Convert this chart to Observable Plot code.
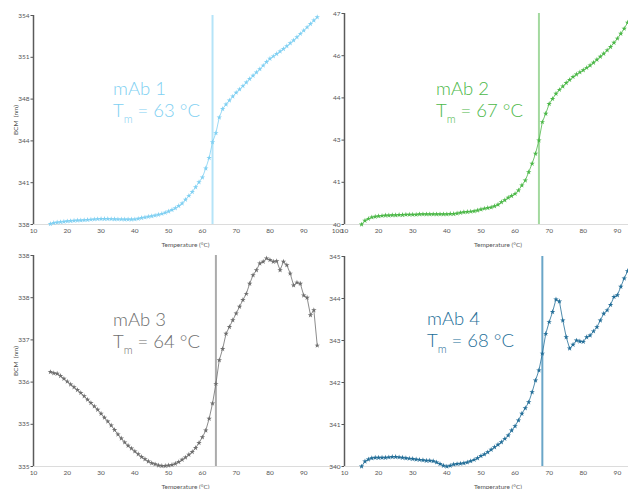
<!DOCTYPE html>
<html><head><meta charset="utf-8">
<script src="https://cdn.jsdelivr.net/npm/d3@7"></script>
<script src="https://cdn.jsdelivr.net/npm/@observablehq/plot@0.6"></script>
<style>
body{margin:0;background:#fff;}
#wrap{position:relative;width:628px;height:489px;overflow:hidden;background:#fff;}
.panel{position:absolute;}
.lab{position:absolute;font-family:Lato,sans-serif;font-weight:300;font-size:18.5px;line-height:21.6px;white-space:nowrap;letter-spacing:0px;}
.lab sub{font-size:11px;vertical-align:-6px;line-height:0;}
</style></head><body><div id="wrap"></div>
<script>
// Temperature grid (°C)
const temps = [15,16,17,18,19,20,21,22,23,24,25,26,27,28,29,30,31,32,33,34,35,36,37,38,39,40,41,42,43,44,45,46,47,48,49,50,51,52,53,54,55,56,57,58,59,60,61,62,63,64,65,66,67,68,69,70,71,72,73,74,75,76,77,78,79,80,81,82,83,84,85,86,87,88,89,90,91,92,93,94];

// BCM (nm) values per antibody
const bcm1 = [338.05,338.12,338.16,338.19,338.22,338.25,338.27,338.29,338.31,338.32,338.34,338.36,338.38,338.40,338.42,338.43,338.43,338.43,338.42,338.41,338.40,338.40,338.39,338.39,338.39,338.40,338.44,338.50,338.55,338.60,338.64,338.69,338.75,338.82,338.90,339.00,339.12,339.25,339.42,339.62,339.90,340.20,340.50,340.86,341.24,341.60,342.30,343.10,344.30,345.00,346.20,346.85,347.20,347.50,347.80,348.10,348.35,348.60,348.88,349.15,349.40,349.65,349.90,350.17,350.45,350.70,350.88,351.06,351.25,351.44,351.66,351.88,352.10,352.34,352.60,352.85,353.10,353.36,353.62,353.87];
const bcm2 = [40.00,40.13,40.19,40.24,40.26,40.28,40.29,40.30,40.30,40.31,40.31,40.32,40.32,40.33,40.33,40.33,40.33,40.34,40.34,40.34,40.34,40.34,40.34,40.34,40.34,40.34,40.35,40.35,40.37,40.39,40.41,40.42,40.43,40.44,40.47,40.50,40.53,40.55,40.57,40.61,40.66,40.74,40.81,40.89,40.95,41.02,41.13,41.30,41.46,41.74,42.02,42.35,42.79,43.40,43.68,44.00,44.17,44.34,44.47,44.58,44.70,44.80,44.90,44.98,45.05,45.12,45.20,45.28,45.37,45.47,45.57,45.67,45.78,45.89,46.03,46.17,46.33,46.50,46.70,46.95];
const bcm3 = [336.28,336.26,336.25,336.21,336.16,336.11,336.06,336.01,335.96,335.91,335.85,335.79,335.73,335.67,335.61,335.54,335.47,335.40,335.33,335.25,335.17,335.10,335.03,334.97,334.92,334.87,334.82,334.77,334.73,334.69,334.66,334.64,334.62,334.61,334.61,334.62,334.63,334.65,334.68,334.72,334.76,334.81,334.86,334.93,335.02,335.12,335.24,335.45,335.72,336.07,336.49,336.69,336.96,337.08,337.20,337.32,337.44,337.56,337.67,337.85,338.00,338.09,338.21,338.24,338.30,338.27,338.24,338.25,338.09,338.24,338.18,338.03,337.82,337.87,337.85,337.64,337.60,337.29,337.38,336.75];
const bcm4 = [340.00,340.12,340.17,340.20,340.21,340.21,340.21,340.21,340.22,340.23,340.23,340.22,340.21,340.20,340.19,340.18,340.17,340.16,340.15,340.14,340.14,340.13,340.10,340.06,340.02,340.00,340.02,340.05,340.06,340.07,340.08,340.10,340.13,340.16,340.20,340.25,340.29,340.34,340.40,340.46,340.52,340.58,340.66,340.74,340.86,340.96,341.10,341.26,341.39,341.53,341.77,342.05,342.29,342.69,343.16,343.44,343.68,343.98,343.93,343.48,343.08,342.81,342.90,343.00,342.98,342.97,343.08,343.12,343.22,343.32,343.48,343.64,343.72,343.85,344.04,344.08,344.28,344.48,344.65,344.95];

const names = ["mAb 1","mAb 2","mAb 3","mAb 4"];
const tms = [63,67,64,68];

// Axis ticks and labels
const xTicksA = [10,20,30,40,50,60,70,80,90,100];
const xTicksB = [10,20,30,40,50,60,70,80,90];
const yTicks1 = [338,341.2,344.4,347.6,350.8,354];
const yLabels1 = ["338","341","344","348","351","354"];
const yTicks2 = [40,41.4,42.8,44.2,45.6,47];
const yLabels2 = ["40","41","43","44","46","47"];
const yTicks3 = [334.6,335.35,336.1,336.85,337.6,338.35];
const yLabels3 = ["335","335","336","337","338","338"];
const yTicks4 = [340,341,342,343,344,345];
const yLabels4 = ["340","341","342","343","344","345"];

const panels = [
  {vals:bcm1, yt:yTicks1, yl:yLabels1, xt:xTicksA, c:"#80d0f2", rc:"#b5e4f8", left:0, top:0, h:250, mt:15, mb:26, ml:33, showY:true, lx:113, ly:78},
  {vals:bcm2, yt:yTicks2, yl:yLabels2, xt:xTicksB, c:"#4cb848", rc:"#a3d99f", left:314, top:0, h:250, mt:13, mb:26, ml:30, showY:false, lx:436, ly:78},
  {vals:bcm3, yt:yTicks3, yl:yLabels3, xt:xTicksB, c:"#6e6e6e", rc:"#ababab", left:0, top:245, h:244, mt:10, mb:23, ml:33, showY:true, lx:113, ly:309},
  {vals:bcm4, yt:yTicks4, yl:yLabels4, xt:xTicksB, c:"#236e98", rc:"#6aa6c8", left:314, top:245, h:244, mt:11, mb:23, ml:30, showY:false, lx:427, ly:308}
];

const wrap = document.getElementById("wrap");
panels.forEach((p, k) => {
  const data = temps.map((t, i) => ({t, v: p.vals[i]}));
  const yd = [p.yt[0], p.yt[p.yt.length - 1]];
  const chart = Plot.plot({
    width: 340, height: p.h,
    marginLeft: p.ml, marginRight: 3, marginTop: p.mt, marginBottom: p.mb,
    style: {background: "transparent", overflow: "visible", fontFamily: "Lato, 'Open Sans', sans-serif", fontSize: "6.5px", color: "#555"},
    x: {domain: [10, 100]},
    y: {domain: yd},
    marks: [
      Plot.ruleY([yd[0]], {stroke: "#dcdcdc", strokeWidth: 1}),
      Plot.axisX({ticks: p.xt, tickSize: 0, tickPadding: 4, tickFormat: d => String(d), label: "Temperature (°C)", labelAnchor: "center", labelArrow: false, labelOffset: 22, fontSize: 6.5}),
      Plot.axisY({ticks: p.yt, tickFormat: d => p.yl[p.yt.indexOf(d)], tickSize: 2.5, tickPadding: 1.5, label: p.showY ? "BCM  (nm)" : null, labelAnchor: "center", labelArrow: false, labelOffset: 20, fontSize: 6.5}),
      Plot.ruleX([10], {stroke: "#5a5a5a", strokeWidth: 1.5}),
      Plot.ruleX([tms[k]], {stroke: p.rc, strokeWidth: 2}),
      Plot.line(data, {x: "t", y: "v", stroke: p.c, strokeWidth: 0.8}),
      Plot.dot(data, {x: "t", y: "v", symbol: "star", r: 1.7, fill: p.c})
    ]
  });
  chart.classList.add("panel");
  chart.style.left = p.left + "px";
  chart.style.top = p.top + "px";
  wrap.appendChild(chart);
  const lab = document.createElement("div");
  lab.className = "lab";
  lab.style.left = p.lx + "px";
  lab.style.top = p.ly + "px";
  lab.style.color = p.c;
  lab.innerHTML = names[k] + "<br>T<sub>m</sub> = " + tms[k] + " °C";
  wrap.appendChild(lab);
});
</script>
</body></html>
